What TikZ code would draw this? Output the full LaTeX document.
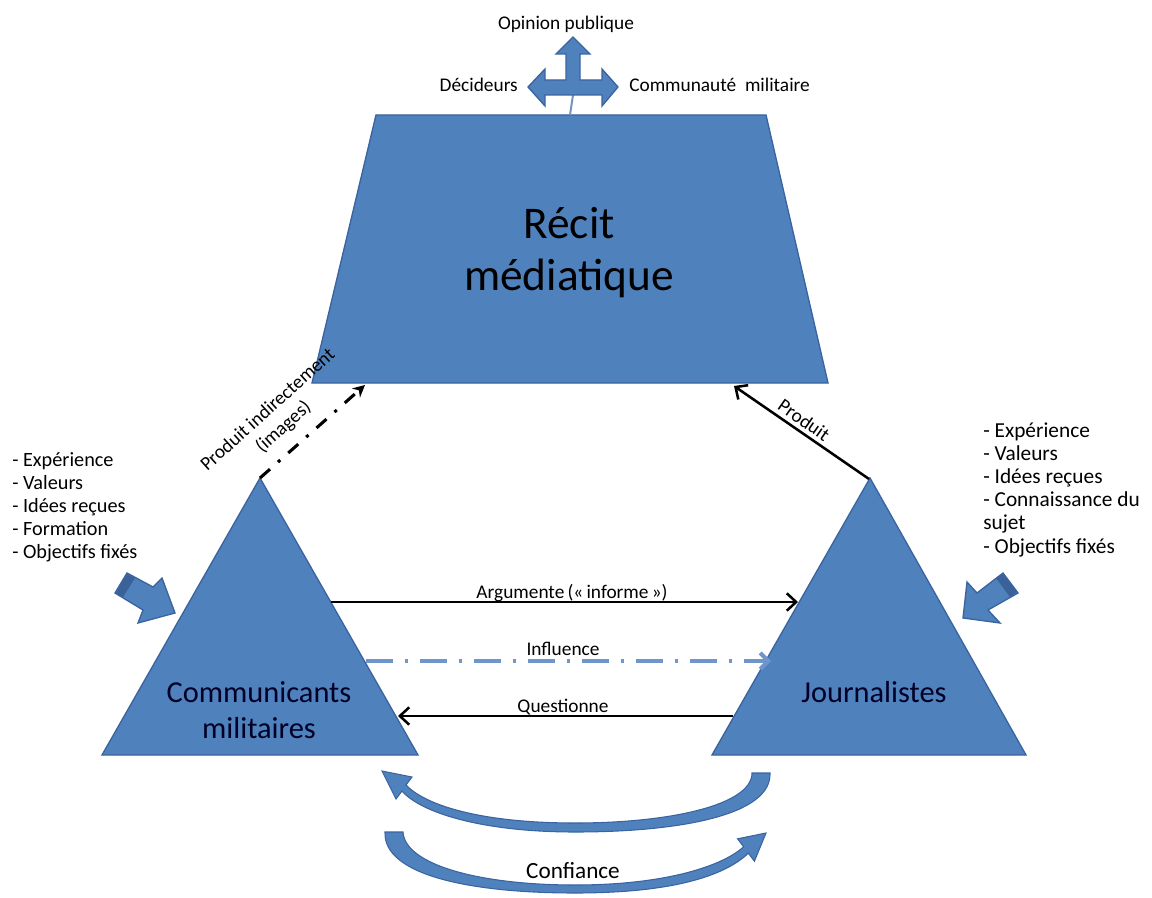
\documentclass[tikz,border=0pt]{standalone}
\usepackage{fontspec}
\setmainfont{Carlito}
\usetikzlibrary{arrows.meta}
\definecolor{boxblue}{HTML}{4F81BD}
\definecolor{edgeblue}{HTML}{3A64A0}
\definecolor{darkface}{HTML}{3A6298}
\definecolor{inflblue}{HTML}{6E95CC}
\begin{document}
\begin{tikzpicture}[x=0.75pt,y=-0.75pt,
  shapefill/.style={fill=boxblue,draw=edgeblue,line width=1pt,line join=miter},
  lbl/.style={font=\fontsize{14.5}{17.5}\selectfont,inner sep=0pt},
  listleft/.style={font=\fontsize{15.2}{18}\selectfont,inner sep=0pt,anchor=base west},
  listright/.style={font=\fontsize{16}{19}\selectfont,inner sep=0pt,anchor=base west},
  bigtxt/.style={font=\fontsize{34}{40}\selectfont,inner sep=0pt,anchor=base},
  midtxt/.style={font=\fontsize{22.8}{27}\selectfont,inner sep=0pt,anchor=base,text=black!85!blue},
  conn/.style={line width=1.9pt,-{Straight Barb[length=7pt,width=13pt]}},
  influ/.style={draw=inflblue,line width=3pt,dash pattern=on 20pt off 9pt on 2.5pt off 9pt,-{Straight Barb[length=6pt,width=12pt]}},
  indir/.style={line width=2.3pt,dash pattern=on 10pt off 8pt on 2.3pt off 8pt,-{Stealth[length=9pt,width=9pt]}},
]
\path[use as bounding box] (0,0) rectangle (1152,898);

% ---- Recit mediatique (trapezoid)
\path[shapefill] (376,115) -- (766,115) -- (828,383) -- (312,383) -- cycle;
\node[bigtxt] (recit1) at (569,239) {Récit};
\node[bigtxt] (recit2) at (569,291) {médiatique};

% ---- three-way arrow at the top
\draw[edgeblue!70!white,line width=1.5pt] (573,95) -- (570,115);
\path[shapefill] (573,37) -- (590,54) -- (580,54) -- (580,80) -- (602,80) -- (602,69)
  -- (618,87) -- (602,106) -- (602,95) -- (545,95) -- (545,106) -- (528,87)
  -- (545,69) -- (545,80) -- (566,80) -- (566,54) -- (556,54) -- cycle;
\node[lbl,anchor=base] (opinion) at (566,30) {Opinion publique};
\node[lbl,anchor=base east] (decideurs) at (518,92) {Décideurs};
\node[lbl,anchor=base west] (communaute) at (629,92) {Communauté\ \ militaire};

% ---- triangles
\path[shapefill] (260,478) -- (418,755) -- (102,755) -- cycle;
\path[shapefill] (870,478) -- (1026,755) -- (712,755) -- cycle;
\node[midtxt] (comm1) at (259,702) {Communicants};
\node[midtxt] (comm2) at (259,738) {militaires};
\node[midtxt] (journ) at (874,702) {Journalistes};

% ---- named connector ends
\coordinate (lapex) at (260,478);
\coordinate (rapex) at (869,479);
\coordinate (piend) at (365,385);
\coordinate (pend) at (734,386);
\coordinate (args) at (331,602);
\coordinate (arge) at (798,602);
\coordinate (infs) at (366,661);
\coordinate (infe) at (771,661);
\coordinate (qs) at (733,716);
\coordinate (qe) at (398,716);

% ---- connectors
\draw[indir] (lapex) -- (piend);
\draw[conn] (rapex) -- (pend);
\draw[conn] (args) -- (arge);
\draw[influ] (infs) -- (infe);
\draw[conn] (qs) -- (qe);

\node[lbl,rotate=42,align=center] (pilabel) at (276,419) {Produit indirectement\\(images)};
\node[lbl,rotate=-35] (plabel) at (804,420) {Produit};
\node[lbl,anchor=base] (arglabel) at (572,598) {Argumente\,(«\,informe\,»)};
\node[lbl,anchor=base] (inflabel) at (563,655) {Influence};
\node[lbl,anchor=base] (qlabel) at (563,712) {Questionne};

% ---- lists
\foreach \t [count=\i from 0] in {- Expérience,- Valeurs,- Idées reçues,- Formation,- Objectifs fixés}
  \node[listleft] (ll\i) at (12,466+23*\i) {\t};
\foreach \t [count=\i from 0] in {- Expérience,- Valeurs,- Idées reçues,- Connaissance du,sujet,- Objectifs fixés}
  \node[listright] (rl\i) at (983,437+23.2*\i) {\t};

% ---- block arrows
\path[shapefill] (127,573) -- (153,587) -- (162,578) -- (175,613) -- (138,623) -- (143,610) -- (115,593) -- cycle;
\path[fill=darkface] (127,574) -- (135,578) -- (123,597) -- (116,593) -- cycle;
\path[shapefill] (1003,573) -- (1018,593) -- (988,610) -- (1000,623) -- (963,618) -- (967,582) -- (977,593) -- cycle;
\path[fill=darkface] (1003,574) -- (1017,592) -- (1010,597) -- (996,578) -- cycle;

% ---- curved "Confiance" arrows
\path[shapefill,line width=0.8pt] (752,773) -- (770,773)
  .. controls (772,815) and (680,832) .. (575,832)
  .. controls (480,832) and (420,812) .. (402,791)
  -- (396,799) -- (382,771) -- (412,777) -- (406,785)
  .. controls (425,805) and (480,823) .. (575,823)
  .. controls (670,823) and (752,805) .. (752,773) -- cycle;
\path[shapefill,line width=0.8pt] (385,832) -- (403,832)
  .. controls (405,865) and (480,885) .. (575,885)
  .. controls (660,885) and (720,868) .. (743.6,846.8)
  -- (737.6,838.8) -- (766,833) -- (754.4,861.2) -- (748.4,853.2)
  .. controls (720,880) and (660,893) .. (575,893)
  .. controls (470,893) and (383,875) .. (385,832) -- cycle;
\node[font=\fontsize{17.4}{20}\selectfont,inner sep=0pt,anchor=base] (confiance) at (573,878) {Confiance};
\end{tikzpicture}
\end{document}
